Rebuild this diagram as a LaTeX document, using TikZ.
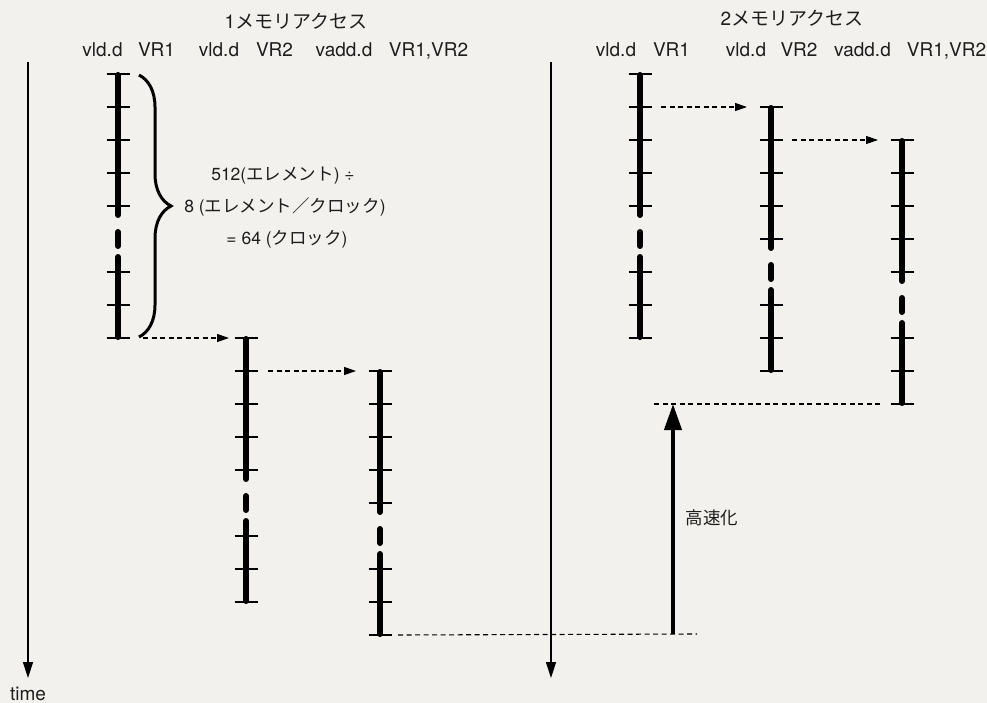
\documentclass[tikz,border=0pt]{standalone}
\usepackage{fontspec}
\setmainfont{TeX Gyre Heros}
\newfontfamily\jp{Noto Sans CJK JP}
\usetikzlibrary{arrows.meta,decorations.pathreplacing}
\definecolor{bgc}{HTML}{F3F1ED}
\definecolor{txt}{HTML}{1E1E1E}
\tikzset{
  lbl/.style={inner sep=0pt,anchor=base,text=txt,font=\fontsize{19}{23}\selectfont},
  flbl/.style={inner sep=0pt,anchor=base,text=txt,font=\fontsize{17.5}{21}\selectfont},
  ticksty/.style={line width=2.8pt,black},
  barsty/.style={line width=6pt,black,line cap=round},
  darr/.style={line width=1.1pt,dash pattern=on 5pt off 3.5pt,-{Triangle[length=12pt,width=8pt]}},
  dline/.style={line width=1.1pt,dash pattern=on 5pt off 3.5pt},
  axis/.style={line width=1.4pt,-{Triangle[length=16pt,width=10pt]}},
  uparr/.style={line width=4pt,-{Triangle[length=26pt,width=17pt]}},
  bracesty/.style={line width=3pt,decorate,decoration={brace,amplitude=32pt}},
}
\newcommand{\clkcol}[3]{% #1 name, #2 x, #3 top
  \foreach \k in {0,...,8}{%
    \ifnum\k=5\relax\else
      \coordinate (#1-\k) at (#2,#3+\k*33);
      \draw[ticksty] (#2-11.5,#3+\k*33) -- (#2+11.5,#3+\k*33);
    \fi}
  \draw[barsty] (#2,#3+1) -- (#2,#3+141);
  \draw[barsty] (#2,#3+158) -- (#2,#3+172);
  \draw[barsty] (#2,#3+183) -- (#2,#3+263);
}
\begin{document}
\begin{tikzpicture}[x=1pt,y=-1pt]
\fill[bgc] (0,0) rectangle (987,703);
\useasboundingbox (0,0) rectangle (987,703);
% time axes
\coordinate (t1s) at (28,62); \coordinate (t1e) at (28,678);
\coordinate (t2s) at (551,62); \coordinate (t2e) at (551,678);
\draw[axis] (t1s) -- (t1e);
\draw[axis] (t2s) -- (t2e);
\node[lbl] (time) at (28,700) {time};
% headers left
\node[lbl] (h1) at (296,29) {1{\jp メモリアクセス}};
\node[lbl] (l1) at (102.5,57) {vld.d};
\node[lbl] (l2) at (156.5,57) {VR1};
\node[lbl] (l3) at (219,57) {vld.d};
\node[lbl] (l4) at (274.5,57) {VR2};
\node[lbl] (l5) at (344,57) {vadd.d};
\node[lbl] (l6) at (428.5,57) {VR1,VR2};
% headers right
\node[lbl] (h2) at (792,26) {2{\jp メモリアクセス}};
\node[lbl] (r1) at (616,57) {vld.d};
\node[lbl] (r2) at (671.5,57) {VR1};
\node[lbl] (r3) at (746,57) {vld.d};
\node[lbl] (r4) at (799,57) {VR2};
\node[lbl] (r5) at (862.5,57) {vadd.d};
\node[lbl] (r6) at (946.5,57) {VR1,VR2};
% columns left
\clkcol{ca}{118}{74}
\clkcol{cb}{246}{338}
\clkcol{cc}{380}{371}
% columns right
\clkcol{da}{640}{74}
\clkcol{db}{771}{107}
\clkcol{dc}{902}{140}
% brace and formula
\coordinate (bt) at (139,75); \coordinate (bb) at (139,337);
\draw[bracesty] (bt) -- (bb);
\node[flbl] (f1) at (283,181) {512({\jp エレメント}) ÷};
\node[flbl] (f2) at (285,213) {8 ({\jp エレメント／クロック})};
\node[flbl] (f3) at (287,245) {= 64 ({\jp クロック})};
% dashed arrows
\draw[darr] ([xshift=25pt]ca-8) -- ([xshift=-17pt]cb-0);
\draw[darr] ([xshift=22pt]cb-1) -- ([xshift=-24pt]cc-0);
\draw[darr] ([xshift=21pt]da-1) -- ([xshift=-24pt]db-0);
\draw[darr] ([xshift=21pt]db-1) -- ([xshift=-24pt]dc-0);
% speed-up
\coordinate (sp1) at (673,634);
\coordinate (sp2) at (673,404);
\draw[dline] ([xshift=-22pt]dc-8) -- ([xshift=-22pt]sp2);
\draw[dline] ([xshift=18pt]cc-8) -- ([xshift=24pt]sp1);
\draw[uparr] (sp1) -- (sp2);
\node[flbl,anchor=center] (spd) at (712,518) {\jp 高速化};
\end{tikzpicture}
\end{document}
